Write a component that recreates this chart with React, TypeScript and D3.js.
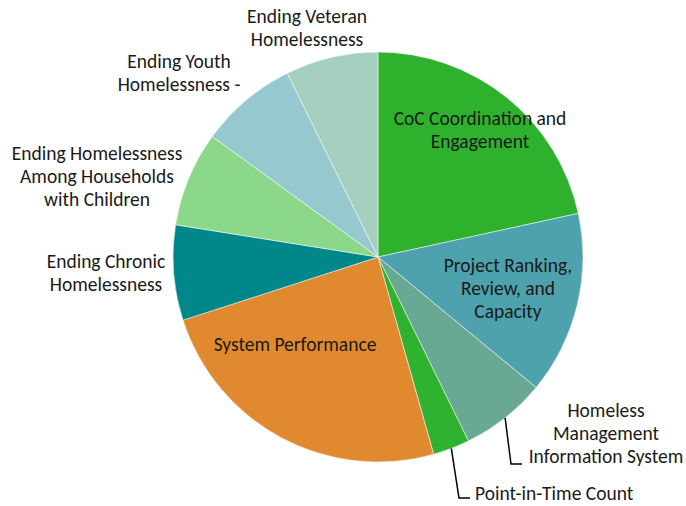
import React from "react";
import * as d3 from "d3";

const categories = [
  "CoC Coordination and Engagement",
  "Project Ranking, Review, and Capacity",
  "Homeless Management Information System",
  "Point-in-Time Count",
  "System Performance",
  "Ending Chronic Homelessness",
  "Ending Homelessness Among Households with Children",
  "Ending Youth Homelessness -",
  "Ending Veteran Homelessness",
];
const values = [21.6, 14.4, 6.75, 2.9, 24.4, 7.5, 7.5, 7.7, 7.3];
const colors = ["#2eb22e", "#4ea2ad", "#69a893", "#2fb22f", "#e1892e", "#00878a", "#8cd88b", "#96c8cf", "#a4cfbe"];
const labelLines = [
  ["CoC Coordination and", "Engagement"],
  ["Project Ranking,", "Review, and", "Capacity"],
  ["Homeless", "Management", "Information System"],
  ["Point-in-Time Count"],
  ["System Performance"],
  ["Ending Chronic", "Homelessness"],
  ["Ending Homelessness", "Among Households", "with Children"],
  ["Ending Youth", "Homelessness -"],
  ["Ending Veteran", "Homelessness"],
];
// label centre positions [x, y of first line centre], anchor
const labelPos: [number, number, string][] = [
  [480, 118, "middle"],
  [508, 265, "middle"],
  [606, 410, "middle"],
  [475, 493, "start"],
  [295, 344, "middle"],
  [106, 261, "middle"],
  [97, 153, "middle"],
  [179, 61, "middle"],
  [307, 16, "middle"],
];

const W = 686, H = 506;
const cx = 378, cy = 257, R = 205;
const FONT = "Carlito, Calibri, Lato, sans-serif";

export default function App() {
  const pie = d3.pie<number>().sort(null).value((d) => d);
  const arcs = pie(values);
  const arc = d3.arc<d3.PieArcDatum<number>>().innerRadius(0).outerRadius(R);
  const lineH = 23;
  const leader = (i: number, endX: number, endY: number) => {
    const a = arcs[i];
    const mid = (a.startAngle + a.endAngle) / 2;
    return { x0: cx + Math.sin(mid) * R, y0: cy - Math.cos(mid) * R, endX, endY };
  };
  const l1 = leader(2, 511, 464);
  const l2 = leader(3, 459, 498);
  return (
    <svg width={W} height={H} style={{ position: "absolute", left: 0, top: 0 }}>
      <rect width={W} height={H} fill="#ffffff" />
      <g transform={`translate(${cx},${cy})`}>
        {arcs.map((a, i) => (
          <path key={i} d={arc(a) || ""} fill={colors[i]} stroke="#ffffff" strokeWidth={0.5} />
        ))}
      </g>
      <path d={`M${l1.x0},${l1.y0}L${l1.endX},${l1.endY}L522,${l1.endY}`} fill="none" stroke="#000" strokeWidth={1.5} />
      <path d={`M${l2.x0},${l2.y0}L${l2.endX},${l2.endY}L470,${l2.endY}`} fill="none" stroke="#000" strokeWidth={1.5} />
      {labelLines.map((lines, i) => (
        <text key={i} fontFamily={FONT} fontSize={19.5} fill="#1a1a1a" textAnchor={labelPos[i][2] as any}>
          {lines.map((t, j) => (
            <tspan key={j} x={labelPos[i][0]} y={labelPos[i][1] + j * lineH} dominantBaseline="central">
              {t}
            </tspan>
          ))}
        </text>
      ))}
    </svg>
  );
}
